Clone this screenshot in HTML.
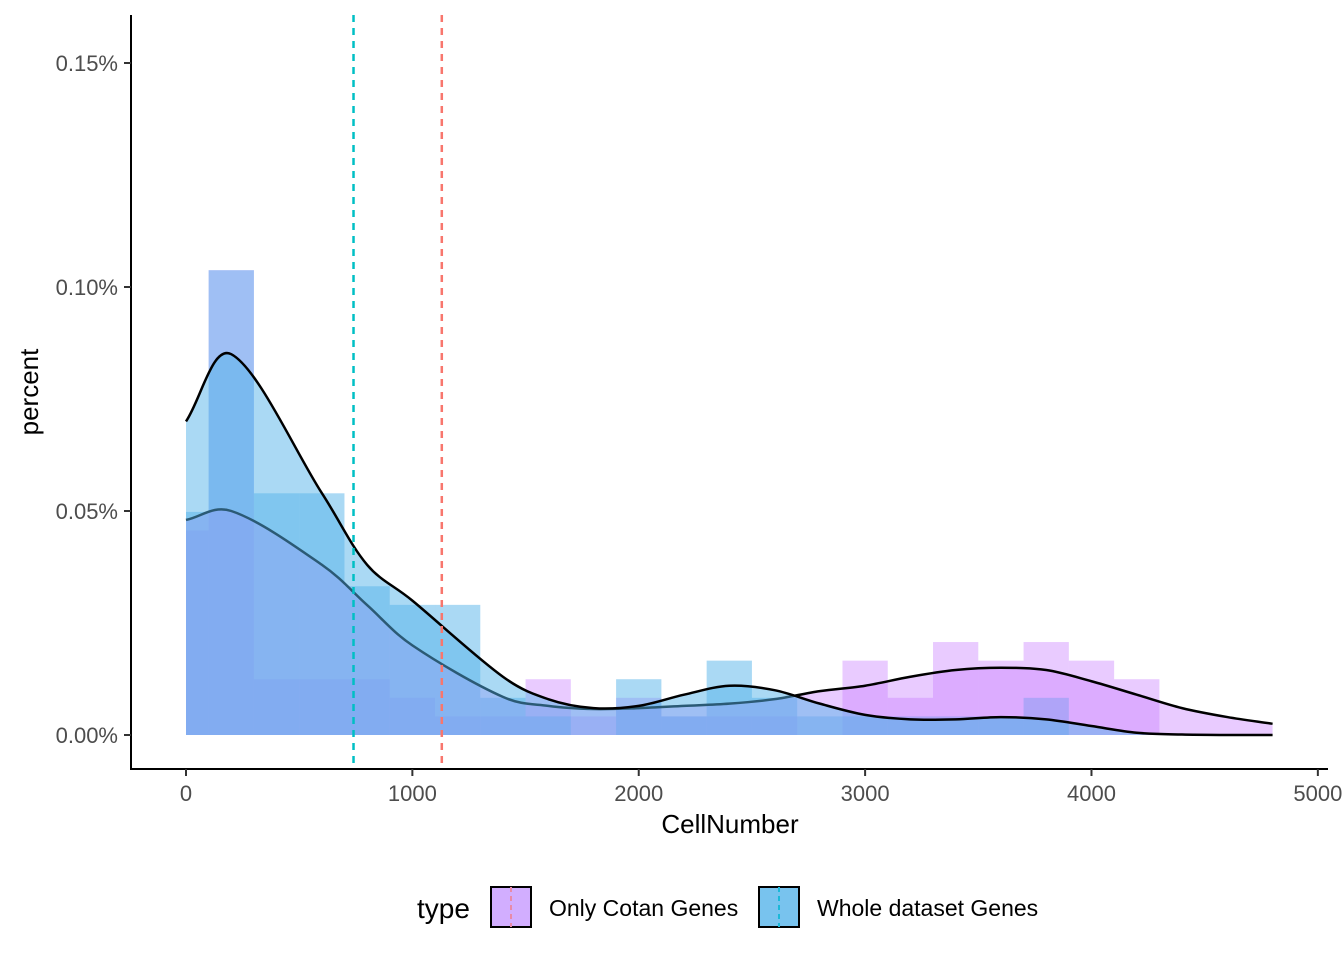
<!DOCTYPE html>
<html><head><meta charset="utf-8"><style>
html,body{margin:0;padding:0;background:#fff;}
svg{display:block;font-family:"Liberation Sans",sans-serif;}
</style></head><body>
<svg id="chart" width="1344" height="960">
<g id="plot"></g>
<line x1="131" y1="15" x2="131" y2="769" stroke="#000" stroke-width="2"/>
<line x1="130" y1="769" x2="1328" y2="769" stroke="#000" stroke-width="2"/>
<g id="ticks"></g>
<text x="730" y="833" font-size="26" text-anchor="middle">CellNumber</text>
<text transform="translate(38,392) rotate(-90)" font-size="26" text-anchor="middle">percent</text>
<g>
<text x="417" y="918" font-size="28">type</text>
<g>
<rect x="491" y="887" width="40" height="40" fill="#d2aeff" stroke="#000" stroke-width="2"/>
<line x1="511" y1="887" x2="511" y2="927" stroke="#e88aa8" stroke-width="2" stroke-dasharray="5,4"/>
<text x="549" y="916" font-size="23">Only Cotan Genes</text></g>
<g>
<rect x="759" y="887" width="40" height="40" fill="#78c3ee" stroke="#000" stroke-width="2"/>
<line x1="779" y1="887" x2="779" y2="927" stroke="#1ab8d8" stroke-width="2" stroke-dasharray="5,4"/>
<text x="817" y="916" font-size="23">Whole dataset Genes</text></g>
</g>
</svg>
<script>
const binCenters=[0,200,400,600,800,1000,1200,1400,1600,1800,2000,2200,2400,2600,2800,3000,3200,3400,3600,3800,4000,4200];
const cotanCounts=[11,25,3,3,3,2,1,1,3,1,2,1,1,1,0,4,2,5,4,5,4,3];
const wholeCounts=[12,25,13,13,8,7,7,2,1,0,3,1,4,2,1,1,1,1,1,2,0,0];
const countUnit=0.00415;
const densX=[0,200,600,800,1000,1400,1600,1800,2000,2200,2400,2600,2800,3000,3200,3400,3600,3800,4000,4200,4400,4600,4800];
const wholeDens=[0.070,0.085,0.054,0.038,0.030,0.013,0.008,0.006,0.0065,0.009,0.011,0.010,0.007,0.0045,0.0035,0.0035,0.004,0.0035,0.002,0.0005,0.0001,0,0];
const cotanDens=[0.048,0.050,0.038,0.029,0.020,0.0085,0.0065,0.0058,0.006,0.0065,0.007,0.008,0.0098,0.011,0.013,0.0145,0.015,0.0145,0.012,0.009,0.006,0.004,0.0025];
const means=[{v:740,c:"#00BFC4",n:"mean-line-whole"},{v:1130,c:"#F8766D",n:"mean-line-cotan"}];
const xTicks=[0,1000,2000,3000,4000,5000];
const yTicks=[0,0.05,0.10,0.15];
const yTickLabels=["0.00%","0.05%","0.10%","0.15%"];

const X=v=>186+v*0.22637;
const Y=p=>735-p*4480;
const NS="http://www.w3.org/2000/svg";
const plot=document.getElementById('plot');
const ticks=document.getElementById('ticks');
function mk(tag,attrs,parent){const e=document.createElementNS(NS,tag);for(const k in attrs)e.setAttribute(k,attrs[k]);parent.appendChild(e);return e;}

function drawHist(counts,fill,name){
  binCenters.forEach((c,i)=>{
    if(!counts[i])return;
    const lo=Math.max(0,c-100),hi=c+100;
    const r=mk('rect',{x:X(lo),y:Y(counts[i]*countUnit),width:X(hi)-X(lo),height:Y(0)-Y(counts[i]*countUnit),fill:fill},plot);
    
    
  });
}
drawHist(cotanCounts,"rgba(199,124,255,0.4)","cotan-hist");
drawHist(wholeCounts,"rgba(86,180,233,0.5)","whole-hist");

function curvePath(vals){
  const pts=densX.map((x,i)=>[X(x),Y(vals[i])]);
  let d="M"+pts[0][0]+","+pts[0][1];
  const dist=(a,b)=>Math.sqrt(Math.hypot(a[0]-b[0],a[1]-b[1]))||1e-6;
  for(let i=0;i<pts.length-1;i++){
    const p0=i>0?pts[i-1]:[2*pts[0][0]-pts[1][0],2*pts[0][1]-pts[1][1]];
    const p1=pts[i],p2=pts[i+1];
    const p3=i+2<pts.length?pts[i+2]:[2*p2[0]-p1[0],2*p2[1]-p1[1]];
    const d1=dist(p0,p1),d2=dist(p1,p2),d3=dist(p2,p3);
    const t1=[(p2[0]-p0[0])*d2/(d1+d2),(p2[1]-p0[1])*d2/(d1+d2)];
    const t2=[(p3[0]-p1[0])*d2/(d2+d3),(p3[1]-p1[1])*d2/(d2+d3)];
    const c1=[p1[0]+t1[0]/3,p1[1]+t1[1]/3];
    const c2=[p2[0]-t2[0]/3,p2[1]-t2[1]/3];
    d+=` C${c1[0]},${c1[1]} ${c2[0]},${c2[1]} ${p2[0]},${p2[1]}`;
  }
  return {d,first:pts[0],last:pts[pts.length-1]};
}
function drawDens(vals,fill,name){
  const c=curvePath(vals);
  const a=mk('path',{d:c.d+` L${c.last[0]},${Y(0)} L${c.first[0]},${Y(0)} Z`,fill:fill,stroke:"none"},plot);
  
  
  const l=mk('path',{d:c.d,fill:"none",stroke:"#000","stroke-width":2.5},plot);
  
  
}
drawDens(cotanDens,"rgba(199,124,255,0.4)","cotan-density");
drawDens(wholeDens,"rgba(86,180,233,0.5)","whole-density");

means.forEach(m=>{
  const l=mk('line',{x1:X(m.v),x2:X(m.v),y1:15,y2:769,stroke:m.c,"stroke-width":2.5,"stroke-dasharray":"7,6"},plot);
  
  
});

xTicks.forEach(v=>{
  const t=mk('line',{x1:X(v),x2:X(v),y1:769,y2:776,stroke:"#333","stroke-width":2},ticks);
  
  
  const tx=mk('text',{x:X(v),y:801,"font-size":22,"text-anchor":"middle",fill:"#4d4d4d"},ticks);
  tx.textContent=v;
  
  
});
yTicks.forEach((p,i)=>{
  const t=mk('line',{x1:124,x2:131,y1:Y(p),y2:Y(p),stroke:"#333","stroke-width":2},ticks);
  
  
  const tx=mk('text',{x:118,y:Y(p)+8,"font-size":22,"text-anchor":"end",fill:"#4d4d4d"},ticks);
  tx.textContent=yTickLabels[i];
  
  
});
</script>
</body></html>
